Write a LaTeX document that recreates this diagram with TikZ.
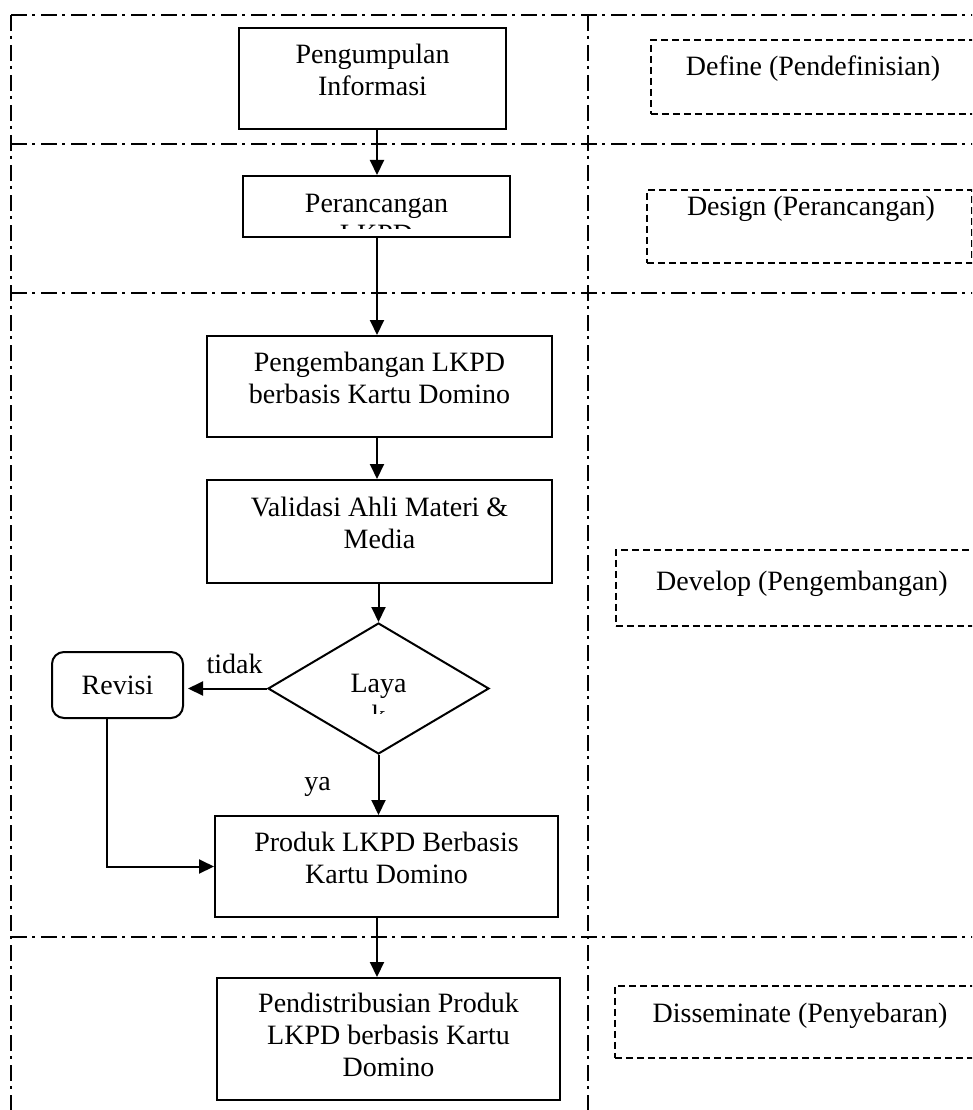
\documentclass[tikz,border=0pt]{standalone}
\usepackage{fontspec}
\setmainfont{Liberation Serif}
\usetikzlibrary{arrows.meta,shapes.geometric}
\newcommand{\huruf}{\fontsize{28}{32}\selectfont}
\newcommand{\batas}[2]{\draw[garisfase] (#1) -- (#2)}
\tikzset{
 kotak/.style={draw, line width=2pt, align=center, inner sep=0pt, font=\huruf},
 naik/.style={execute at end node={\rule[-#1]{0pt}{1pt}}},
 keputusan/.style={draw, diamond, line width=2pt, inner sep=0pt, minimum width=221, minimum height=131},
 garisfase/.style={line width=1.8pt, dash pattern=on 16pt off 5pt on 3pt off 6pt},
 fase/.style={draw, line width=1.7pt, dash pattern=on 7pt off 4pt, inner sep=0pt, anchor=north west},
 panah/.style={line width=2pt, -{Triangle[length=15pt,width=14pt]}},
 teks/.style={font=\huruf, inner sep=0pt, anchor=base}
}

\begin{document}
\begin{tikzpicture}[x=1pt, y=-1pt]
\useasboundingbox (0,0) rectangle (972,1110);
\clip (0,0) rectangle (972,1110);
%Phase borders
	\batas{11,15}{990,15};
	\batas{11,144}{990,144};
	\batas{11,293}{990,293};
	\batas{11,937}{990,937};
	\batas{11,15}{11,1120};
	\batas{588,15}{588,1120};
%Phase names
	\node[fase, minimum width=340, minimum height=74] (define) at (650,39) {};
	\node[teks] (definetxt) at (813,76) {Define (Pendefinisian)};
	\node[fase, minimum width=325, minimum height=73] (design) at (646,189) {};
	\node[teks] (designtxt) at (811,215) {Design (Perancangan)};
	\node[fase, minimum width=375, minimum height=76] (develop) at (615,549) {};
	\node[teks] (developtxt) at (802,590) {Develop (Pengembangan)};
	\node[fase, minimum width=376, minimum height=72] (dissem) at (614,985) {};
	\node[teks] (dissemtxt) at (800,1022) {Disseminate (Penyebaran)};
%The steps
	\node[kotak, naik=17pt, minimum width=267, minimum height=101] (info) at (372.5,78.5) {Pengumpulan\\Informasi};
	\node[kotak, minimum width=267, minimum height=61] (rancang) at (376.5,206.5) {Perancangan};
	\begin{scope}
		\clip (243,176) rectangle (510,228);
		\node[teks] (rancangsisa) at (376.5,243) {LKPD};
	\end{scope}
	\node[kotak, naik=17pt, minimum width=345, minimum height=101] (kembang) at (379.5,386.5) {Pengembangan LKPD\\berbasis Kartu Domino};
	\node[kotak, naik=18pt, minimum width=345, minimum height=103] (validasi) at (379.5,531.5) {Validasi Ahli Materi \&\\Media};
	\node[keputusan] (layak) at (378.5,688.5) {};
	\begin{scope}
		\clip (318,640) rectangle (440,713);
		\node[teks, align=center, anchor=north] (layaksisa) at (378.5,669.6) {\strut Laya\\k};
	\end{scope}
	\node[kotak, rounded corners=12pt, minimum width=131, minimum height=66] (revisi) at (117.5,685) {Revisi};
	\node[kotak, naik=17pt, minimum width=343, minimum height=101] (produk) at (386.5,866.5) {Produk LKPD Berbasis\\Kartu Domino};
	\node[kotak, naik=8pt, minimum width=343, minimum height=122] (sebar) at (388.5,1039) {Pendistribusian Produk\\LKPD berbasis Kartu\\Domino};
	\coordinate (sumbu) at (377,0);
%Arrows
	\draw[panah] (info.south -| sumbu) -- (rancang.north -| sumbu);
	\draw[panah] (rancang.south -| sumbu) -- (kembang.north -| sumbu);
	\draw[panah] (kembang.south -| sumbu) -- (validasi.north -| sumbu);
	\draw[panah] (validasi.south -| layak.north) -- (layak.north);
	\draw[panah, shorten >=4pt] (layak.west) -- (layak.west -| revisi.east)
		node[teks, pos=0.39, yshift=15pt] (tidak) {tidak};
	\draw[panah] (layak.south) -- (produk.north -| layak.south)
		node[teks, midway, xshift=-61pt, yshift=-5pt] (ya) {ya};
	\draw[panah] ([xshift=-10.5pt]revisi.south) |- (produk.west);
	\draw[panah] (produk.south -| sumbu) -- (sebar.north -| sumbu);
\end{tikzpicture}
\end{document}
